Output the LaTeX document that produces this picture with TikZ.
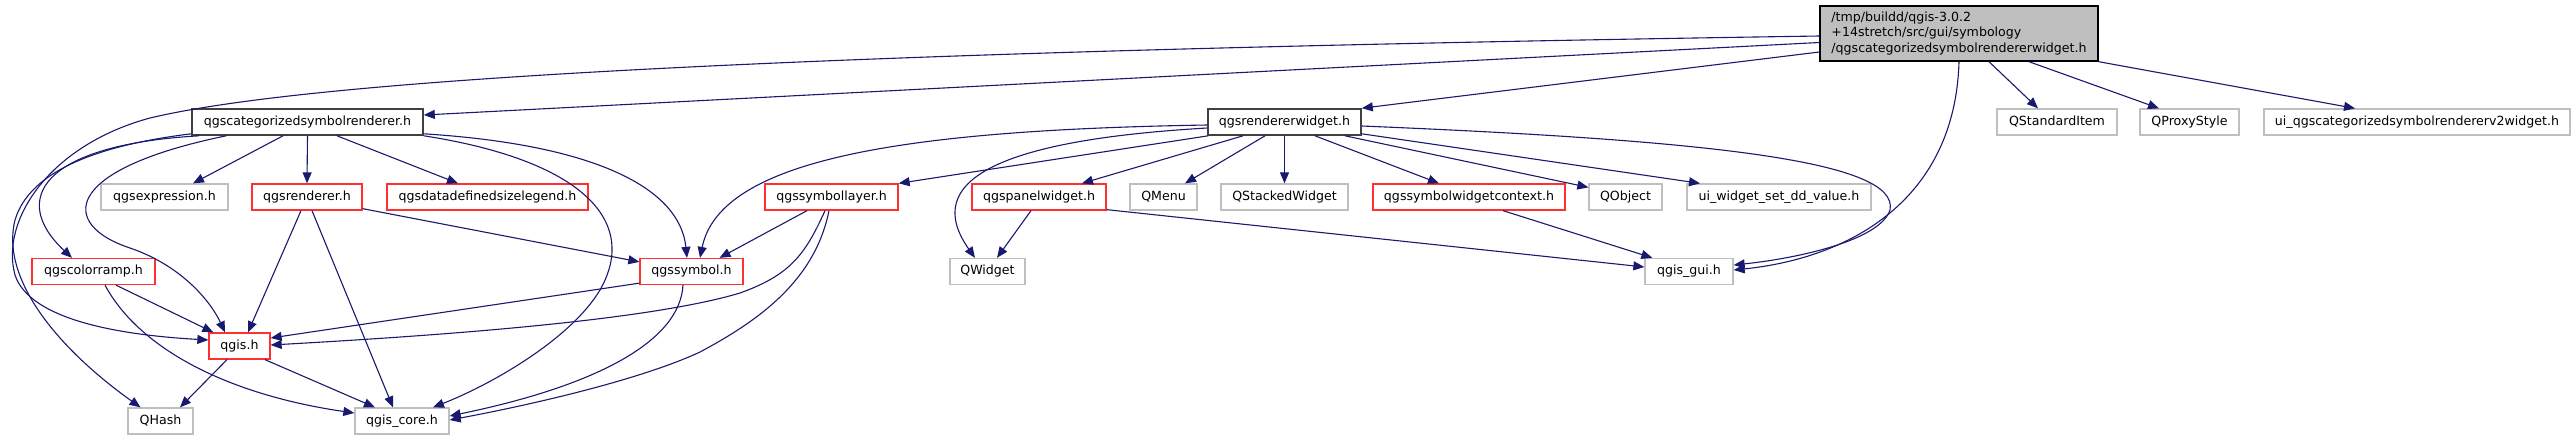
\documentclass[tikz,border=0pt]{standalone}
\usepackage{fontspec}
\setmainfont{DejaVu Sans}
\usetikzlibrary{calc,arrows.meta}
\definecolor{edgec}{HTML}{191970}
\definecolor{redb}{HTML}{FF3030}
\definecolor{grayb}{HTML}{BFBFBF}
\definecolor{mainb}{HTML}{404040}
\tikzset{
  nbase/.style={draw, fill=white, inner sep=0pt, minimum height=26pt, font=\fontsize{12.6}{15.5}\selectfont, line width=1.3pt},
  redbox/.style={nbase, draw=redb},
  graybox/.style={nbase, draw=grayb},
  mainbox/.style={nbase, draw=mainb, line width=1.6pt},
  rootbox/.style={nbase, draw=black, fill=grayb, line width=1.4pt, align=left, minimum height=55pt},
  edge/.style={draw=edgec, line width=1.1pt, -{Triangle[length=11pt,width=9pt]}},
}
\begin{document}
\begin{tikzpicture}[x=1pt,y=-1pt]
\useasboundingbox (0,0) rectangle (2575,440);
% rank 0
\node[rootbox, minimum width=278pt] (root) at (1959,33.5) {/tmp/buildd/qgis-3.0.2\\+14stretch/src/gui/symbology\\/qgscategorizedsymbolrendererwidget.h};
% rank 1
\node[mainbox, minimum width=231pt] (catr) at (307.5,122) {qgscategorizedsymbolrenderer.h};
\node[mainbox, minimum width=153pt] (rw) at (1284.5,122) {qgsrendererwidget.h};
\node[graybox, minimum width=120pt] (qsi) at (2057,122) {QStandardItem};
\node[graybox, minimum width=99pt] (qps) at (2189.5,122) {QProxyStyle};
\node[graybox, minimum width=306pt] (uiv2) at (2417,122) {ui\_qgscategorizedsymbolrendererv2widget.h};
% rank 2
\node[graybox, minimum width=127pt] (expr) at (164.5,197) {qgsexpression.h};
\node[redbox, minimum width=110pt] (rend) at (307,197) {qgsrenderer.h};
\node[redbox, minimum width=201pt] (ddsl) at (487.5,197) {qgsdatadefinedsizelegend.h};
\node[redbox, minimum width=133pt] (slay) at (831.5,197) {qgssymbollayer.h};
\node[redbox, minimum width=134pt] (panel) at (1039,197) {qgspanelwidget.h};
\node[graybox, minimum width=67pt] (qmenu) at (1163.5,197) {QMenu};
\node[graybox, minimum width=127pt] (qstack) at (1284.5,197) {QStackedWidget};
\node[redbox, minimum width=192pt] (swc) at (1469,197) {qgssymbolwidgetcontext.h};
\node[graybox, minimum width=73pt] (qobj) at (1625.5,197) {QObject};
\node[graybox, minimum width=184pt] (uiwsdd) at (1779,197) {ui\_widget\_set\_dd\_value.h};
% rank 3
\node[redbox, minimum width=123pt] (cramp) at (93.5,271.5) {qgscolorramp.h};
\node[redbox, minimum width=103pt] (sym) at (691.5,271.5) {qgssymbol.h};
\node[graybox, minimum width=75pt] (qwid) at (987.5,271.5) {QWidget};
\node[graybox, minimum width=88pt] (gui) at (1689,271.5) {qgis\_gui.h};
% rank 4
\node[redbox, minimum width=61pt] (qgis) at (239.5,346) {qgis.h};
% rank 5
\node[graybox, minimum width=65pt] (qhash) at (160.5,421) {QHash};
\node[graybox, minimum width=94pt] (core) at (402,421) {qgis\_core.h};

% root edges
\draw[edge] ($(root.west)+(0,9)$) -- ($(catr.east)+(0,-7)$);
\draw[edge] ($(root.west)+(0,18.5)$) -- (rw.north east);
\draw[edge] ($(root.west)+(0,2.5)$) .. controls (900,50) and (330,75) .. (150,118) .. controls (50,145) and (0,220) .. (15,275) .. controls (30,320) and (120,335) .. ($(qgis.west)+(0,-6)$);
\draw[edge] (root.south) .. controls (1955,200) and (1850,258) .. ($(gui.east)+(0,-1.5)$);
\draw[edge] ($(root.south)+(30,0)$) -- ($(qsi.north)+(-19,0)$);
\draw[edge] ($(root.south)+(70,0)$) -- ($(qps.north)+(-30.5,0)$);
\draw[edge] (root.south east) -- ($(uiv2.north)+(-62,0)$);

% catr edges
\draw[edge] ($(catr.south west)+(0,-2)$) .. controls (100,145) and (30,170) .. (15,220) .. controls (0,280) and (60,350) .. ($(qhash.north)+(-20,0)$);
\draw[edge] ($(catr.south west)+(8,0)$) .. controls (40,145) and (10,200) .. ($(cramp.north)+(-21.5,0)$);
\draw[edge] ($(catr.south west)+(35,0)$) .. controls (60,170) and (60,225) .. (130,248) .. controls (180,265) and (210,300) .. ($(qgis.north)+(-14.5,0)$);
\draw[edge] ($(catr.south)+(-24.5,0)$) -- ($(expr.north)+(28.5,0)$);
\draw[edge] (catr.south) -- (rend.north);
\draw[edge] ($(catr.south)+(29.5,0)$) -- ($(ddsl.north)+(-29.5,0)$);
\draw[edge] ($(catr.south east)+(0,-2)$) .. controls (600,145) and (680,190) .. ($(sym.north)+(-4.5,0)$);
\draw[edge] (catr.south east) .. controls (580,160) and (640,220) .. (600,290) .. controls (570,340) and (490,385) .. ($(core.north)+(31,0)$);

% rend edges
\draw[edge] ($(rend.south)+(-6,0)$) -- ($(qgis.north)+(8.5,0)$);
\draw[edge] ($(rend.south)+(5,0)$) -- ($(core.north)+(-9,0)$);
\draw[edge] ($(rend.south east)+(0,-2)$) -- ($(sym.north west)+(0,4)$);

% cramp edges
\draw[edge] ($(cramp.south)+(22.5,0)$) -- ($(qgis.north west)+(5,0)$);
\draw[edge] ($(cramp.south)+(11.5,0)$) .. controls (140,350) and (230,395) .. ($(core.west)+(0,-8)$);

% sym edges
\draw[edge] ($(sym.south west)+(0,-2)$) -- ($(qgis.east)+(0,-8)$);
\draw[edge] ($(sym.south)+(-8.5,0)$) .. controls (680,340) and (600,385) .. ($(core.east)+(0,-5)$);

% slay edges
\draw[edge] ($(slay.south)+(-24.5,0)$) -- ($(sym.north)+(28,0)$);
\draw[edge] ($(slay.south)+(-6.5,0)$) .. controls (805,255) and (790,275) .. (740,293) .. controls (650,320) and (450,335) .. ($(qgis.east)+(0,-1)$);
\draw[edge] ($(slay.south)+(-2.5,0)$) .. controls (815,280) and (760,320) .. (700,352) .. controls (640,380) and (530,405) .. ($(core.east)+(0,-1)$);

% rw edges
\draw[edge] ($(rw.west)+(0,3)$) .. controls (900,130) and (720,160) .. ($(sym.north)+(8.5,0)$);
\draw[edge] ($(rw.west)+(0,6)$) .. controls (1000,140) and (920,180) .. ($(qwid.north)+(-12.5,0)$);
\draw[edge] ($(rw.south west)+(1,0)$) -- (slay.north east);
\draw[edge] ($(rw.south)+(-41.5,0)$) -- ($(panel.north)+(43,0)$);
\draw[edge] ($(rw.south)+(-19.5,0)$) -- ($(qmenu.north)+(21.5,0)$);
\draw[edge] (rw.south) -- (qstack.north);
\draw[edge] ($(rw.south)+(30.5,0)$) -- ($(swc.north)+(-30,0)$);
\draw[edge] ($(rw.south)+(60.5,0)$) -- ($(qobj.north west)+(0,4)$);
\draw[edge] ($(rw.south east)+(0,-2)$) -- ($(uiwsdd.north)+(-79,0)$);
\draw[edge] ($(rw.east)+(0,4)$) .. controls (1700,140) and (1900,160) .. (1890,210) .. controls (1880,240) and (1800,258) .. ($(gui.east)+(0,-6.5)$);

% panel, swc
\draw[edge] ($(panel.south)+(-8,0)$) -- ($(qwid.north)+(9.5,0)$);
\draw[edge] ($(panel.south east)+(0,-1)$) -- ($(gui.west)+(0,-4.5)$);
\draw[edge] ($(swc.south)+(34,0)$) -- ($(gui.north west)+(8,0)$);

% qgis
\draw[edge] ($(qgis.south)+(-12.5,0)$) -- ($(qhash.north)+(19.5,0)$);
\draw[edge] ($(qgis.south)+(25.5,0)$) -- ($(core.north)+(-27,0)$);
\end{tikzpicture}
\end{document}
